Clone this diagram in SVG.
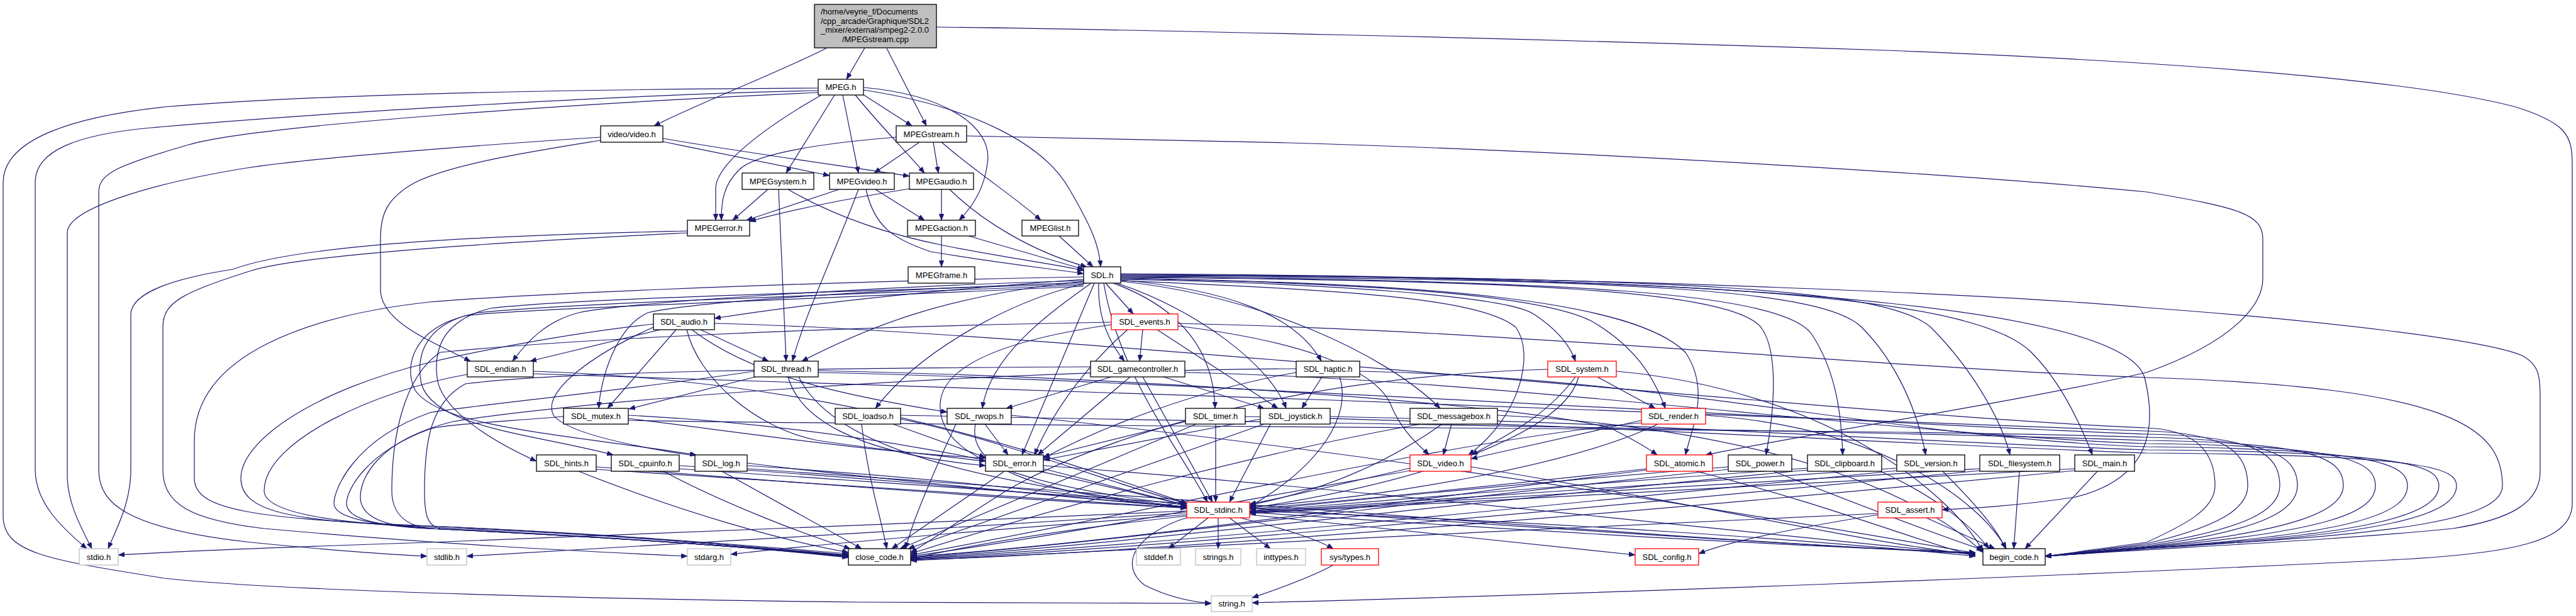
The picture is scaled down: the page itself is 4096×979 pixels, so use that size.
<svg xmlns="http://www.w3.org/2000/svg" width="4096" height="979" viewBox="0 0 4096 979">
<style>
.n rect{fill:#fff;stroke:#000;stroke-width:1.3}
.n.r rect{stroke:#ff0000}
.n.g rect{stroke:#bfbfbf}
.n.root rect{fill:#bfbfbf}
text{font-family:"Liberation Sans",Arial,Helvetica,sans-serif;font-size:13px;fill:#000}
.c{text-anchor:middle}
#edges path{fill:none;stroke:#191970;stroke-width:1.2;marker-end:url(#a)}
</style>
<defs>
<marker id="a" viewBox="0 0 10 8" refX="10" refY="4" markerWidth="10" markerHeight="8" markerUnits="userSpaceOnUse" orient="auto"><path d="M0,0L10,4L0,8z" fill="#191970" stroke="#191970" stroke-width="0.5"/></marker>
</defs>
<rect width="4096" height="979" fill="#fff"/>
<g id="edges">
<path d="M1375,76 L1346,126"/>
<path d="M1315,76 C1250,110 1120,160 1040,200"/>
<path d="M1410,77 L1473,200"/>
<path d="M1489,43 C1800,47 2400,60 3000,80 C3500,100 3850,130 4000,170 C4080,195 4090,215 4090,260 L4090,800 C4090,860 4000,880 3800,890 C3300,915 2500,945 1991,958"/>
<path d="M1301,140 C900,142 500,150 261,170 C120,185 5,220 5,290 L5,820 C5,880 80,890 261,919 C450,940 1000,953 1366,957 L1926,959"/>
<path d="M1301,144 C1000,150 500,180 240,203 C120,214 56,240 56,290 L56,746 C56,800 100,840 138,872"/>
<path d="M1301,147 C900,165 400,200 300,230 C190,262 157,275 157,305 L157,746 C157,800 200,840 400,862 C500,872 600,880 679,884"/>
<path d="M955,218 C800,228 500,250 392,267 C250,290 107,330 107,370 L107,756 C107,800 130,840 146,872"/>
<path d="M955,223 C850,240 720,260 660,290 C615,315 605,340 605,380 L605,460 C605,510 680,540 748,574"/>
<path d="M1093,367 C900,372 500,380 370,428 C260,445 208,470 208,500 L208,746 C208,800 185,840 172,872"/>
<path d="M1093,370 C900,380 500,400 400,430 C290,465 259,480 259,520 L259,746 C259,800 300,826 420,840 C700,865 900,875 1093,884"/>
<path d="M1306,151 C1220,200 1138,260 1138,300 L1138,350"/>
<path d="M1327,151 L1250,275"/>
<path d="M1340,151 L1365,275"/>
<path d="M1360,151 C1400,200 1440,240 1470,275"/>
<path d="M1372,150 L1450,200"/>
<path d="M1373,139 C1500,150 1580,200 1570,260 C1565,300 1545,330 1525,350"/>
<path d="M1373,143 C1550,170 1660,230 1700,300 C1735,360 1748,390 1750,424"/>
<path d="M1054,225 C1150,245 1250,265 1319,279"/>
<path d="M1054,220 C1200,245 1350,265 1446,280"/>
<path d="M1462,226 L1390,275"/>
<path d="M1484,226 L1492,275"/>
<path d="M1497,226 C1560,280 1610,310 1655,350"/>
<path d="M1425,218 C1300,228 1200,245 1175,270 C1150,295 1147,320 1147,350"/>
<path d="M1537,216 L2049,227 C2500,240 3100,275 3413,305 C3560,330 3598,340 3598,380 L3598,443 C3598,480 3560,540 3413,592 C3200,640 2900,685 2712,723"/>
<path d="M1221,301 L1165,350"/>
<path d="M1238,301 L1250,574"/>
<path d="M1253,301 C1320,340 1400,370 1500,390 C1600,410 1680,420 1723,430"/>
<path d="M1334,301 L1187,350"/>
<path d="M1365,301 C1320,420 1280,500 1260,574"/>
<path d="M1392,301 L1470,350"/>
<path d="M1377,301 C1390,360 1420,380 1480,400 C1600,420 1680,428 1723,435"/>
<path d="M1446,300 C1350,315 1250,335 1192,352"/>
<path d="M1497,301 L1497,350"/>
<path d="M1510,301 C1560,350 1640,400 1728,424"/>
<path d="M1497,375 L1497,424"/>
<path d="M1540,375 L1723,428"/>
<path d="M1684,375 L1738,424"/>
<path d="M1723,444 C1500,460 1300,480 1136,506"/>
<path d="M1723,446 C1400,455 1000,480 920,497 C870,510 840,540 815,574"/>
<path d="M1723,449 C1400,460 1100,480 1030,497 C980,520 955,600 952,649"/>
<path d="M1723,451 C1300,465 900,475 780,490 C700,510 690,560 695,600 C700,650 780,700 853,733"/>
<path d="M1723,453 C1300,470 900,482 760,497 C680,512 660,560 670,610 C690,680 850,690 975,723"/>
<path d="M1723,455 C1300,475 800,492 740,502 C660,522 640,580 660,620 C700,680 900,690 1107,723"/>
<path d="M1723,447 C1500,470 1380,520 1275,574"/>
<path d="M1727,450 C1600,480 1460,560 1392,649"/>
<path d="M1735,450 C1680,490 1575,560 1562,649"/>
<path d="M1740,450 L1625,723"/>
<path d="M1758,450 L1802,499"/>
<path d="M1747,450 C1745,500 1760,540 1788,574"/>
<path d="M1770,450 C1880,490 1930,560 1932,649"/>
<path d="M1775,450 C1900,490 2020,580 2045,649"/>
<path d="M1782,445 C1950,460 2060,500 2101,574"/>
<path d="M1782,447 C2000,470 2200,560 2290,649"/>
<path d="M1782,446 C2100,460 2350,470 2410,520 C2440,560 2420,660 2335,723"/>
<path d="M1782,444 C2100,450 2400,470 2440,500 C2470,520 2495,545 2505,574"/>
<path d="M1782,443 C2200,450 2450,470 2530,510 C2600,550 2630,600 2648,649"/>
<path d="M1782,442 C2300,450 2600,480 2680,560 C2720,620 2690,680 2680,723"/>
<path d="M1782,441 C2400,445 2750,460 2800,520 C2830,560 2820,660 2808,723"/>
<path d="M1782,440 C2500,445 2830,465 2880,530 C2920,590 2928,660 2930,723"/>
<path d="M1782,439 C2600,443 2900,460 2960,520 C3020,580 3050,660 3062,723"/>
<path d="M1782,438 C2700,440 3000,460 3070,520 C3130,580 3180,660 3196,723"/>
<path d="M1782,437 C2800,440 3150,480 3230,560 C3280,610 3310,680 3327,723"/>
<path d="M1782,436 C2900,440 3380,500 3410,600 C3430,680 3420,760 3300,790 C3200,805 3130,808 3088,810"/>
<path d="M1755,450 C1780,600 1880,720 1920,798"/>
<path d="M1782,435 C2600,440 3200,470 3413,489 C3700,510 3950,540 4010,565 C4039,580 4039,600 4039,640 L4039,749 C4039,800 3990,826 3900,840 C3700,860 3450,870 3252,884"/>
<path d="M1723,440 C1200,450 800,470 683,480 C500,500 309,560 309,700 L309,760 C309,810 396,824 683,836 C1000,850 1200,868 1349,880"/>
<path d="M1050,524 L843,574"/>
<path d="M1075,524 L966,649"/>
<path d="M1114,524 L1222,574"/>
<path d="M1092,524 C1110,600 1200,680 1300,700 C1400,715 1500,725 1567,733"/>
<path d="M1100,524 C1200,600 1350,630 1506,655"/>
<path d="M1039,520 C950,560 860,620 880,660 C920,710 1200,740 1500,770 C1700,790 1800,800 1887,805"/>
<path d="M1136,514 C1636,524 3000,665 3413,680 C3482,683 3522,710 3522,772 C3522,810 3472,835 3413,862 C3350,870 3300,878 3252,884"/>
<path d="M1039,515 C900,530 750,560 683,576 C500,620 383,700 383,760 C383,810 450,830 683,836 C1000,850 1200,870 1349,882"/>
<path d="M848,590 C1300,605 1600,700 1887,800"/>
<path d="M848,594 C1348,604 3000,670 3413,685 C3534,688 3574,715 3574,772 C3574,810 3524,838 3413,864 C3350,872 3300,879 3252,884"/>
<path d="M743,595 C600,620 420,700 420,780 C420,810 500,830 683,838 C1000,850 1200,870 1349,883"/>
<path d="M1201,599 L1000,650"/>
<path d="M1253,599 C1270,660 1350,720 1567,740"/>
<path d="M1270,599 C1320,700 1500,760 1887,806"/>
<path d="M1301,589 C1800,600 2400,640 2560,680 C2600,700 2620,712 2635,723"/>
<path d="M1301,592 C1801,602 3000,675 3413,690 C3585,693 3625,720 3625,772 C3625,810 3575,840 3413,866 C3350,873 3300,879 3252,884"/>
<path d="M1199,590 C1000,620 700,650 683,656 C560,700 531,780 531,800 C531,825 600,834 683,840 C1000,855 1200,870 1349,884"/>
<path d="M999,660 C1400,680 1700,760 1887,803"/>
<path d="M999,665 C1200,690 1400,720 1567,728"/>
<path d="M999,668 C1499,678 3000,680 3413,695 C3613,698 3653,725 3653,772 C3653,810 3603,842 3413,868 C3350,874 3300,880 3252,884"/>
<path d="M896,662 C800,670 700,675 683,682 C580,720 551,780 551,800 C551,825 600,836 683,840 C1000,855 1200,870 1349,884"/>
<path d="M1817,524 L1812,574"/>
<path d="M1840,524 L2032,649"/>
<path d="M1793,524 C1740,570 1680,640 1645,723"/>
<path d="M1873,518 C2050,540 2180,580 2210,640 C2230,690 2260,710 2272,723"/>
<path d="M1767,516 C1600,540 1500,580 1495,640 C1490,720 1600,770 1887,803"/>
<path d="M1873,514 C2400,525 3000,585 3413,600 C3900,615 3979,680 3979,772 C3979,820 3850,850 3413,870 C3350,876 3300,880 3252,884"/>
<path d="M1767,512 C1300,520 900,540 700,560 C640,600 623,700 623,780 C623,820 650,836 683,840 C1000,855 1200,870 1349,885"/>
<path d="M1767,599 L1600,649"/>
<path d="M1797,599 L1650,723"/>
<path d="M1850,599 L2010,649"/>
<path d="M1817,599 L1928,798"/>
<path d="M1884,592 C2384,602 3000,690 3413,705 C3737,708 3777,735 3777,772 C3777,815 3700,845 3413,870 C3350,876 3300,880 3252,884"/>
<path d="M1734,583 C1300,585 900,590 740,610 C685,640 675,700 675,780 C675,820 680,836 700,840 C1000,855 1200,870 1349,886"/>
<path d="M2102,599 L2070,649"/>
<path d="M2061,592 C1900,620 1750,680 1659,728"/>
<path d="M2130,599 C2150,660 2100,740 1987,805"/>
<path d="M2162,590 C2662,600 3000,695 3413,710 C3788,713 3828,740 3828,772 C3828,815 3750,848 3413,871 C3350,877 3300,881 3252,884"/>
<path d="M2061,586 C1500,590 900,640 720,670 C600,700 573,760 573,790 C573,825 620,838 683,840 C1000,855 1200,870 1349,885"/>
<path d="M2540,599 L2632,649"/>
<path d="M2505,599 C2460,660 2400,690 2340,723"/>
<path d="M2510,599 C2490,680 2300,760 1987,808"/>
<path d="M2570,590 C2900,620 3100,780 3153,876"/>
<path d="M2461,587 C2000,600 1700,720 1600,780 C1520,830 1480,860 1448,878"/>
<path d="M1420,674 L1567,727"/>
<path d="M1432,666 C1600,700 1800,780 1887,800"/>
<path d="M1370,674 C1380,760 1400,820 1410,872"/>
<path d="M1432,660 C1932,670 3000,685 3413,700 C3686,703 3726,730 3726,772 C3726,812 3650,844 3413,869 C3350,875 3300,880 3252,884"/>
<path d="M1566,674 L1603,723"/>
<path d="M1551,674 C1540,730 1600,780 1887,807"/>
<path d="M1608,660 C2200,720 2800,820 3141,879"/>
<path d="M1520,674 C1480,760 1450,830 1440,872"/>
<path d="M1885,670 L1659,726"/>
<path d="M1933,674 L1933,798"/>
<path d="M1902,674 L1431,872"/>
<path d="M1980,662 C2480,672 3000,705 3413,720 C3866,723 3906,745 3906,772 C3906,818 3800,850 3413,872 C3350,877 3300,881 3252,884"/>
<path d="M2004,666 L1659,731"/>
<path d="M2020,674 L1955,798"/>
<path d="M2010,674 L1444,872"/>
<path d="M2115,662 C2615,672 3000,700 3413,715 C3838,718 3878,742 3878,772 C3878,816 3780,849 3413,871 C3350,877 3300,881 3252,884"/>
<path d="M2308,674 L2295,723"/>
<path d="M2293,674 C2200,740 2100,780 1987,803"/>
<path d="M2259,674 C2000,720 1700,800 1448,880"/>
<path d="M2381,660 C2800,680 3050,780 3153,878"/>
<path d="M2610,668 L2339,729"/>
<path d="M2636,674 C2500,740 2200,790 1987,806"/>
<path d="M2610,672 C2300,700 1800,820 1448,882"/>
<path d="M2712,660 C3000,680 3150,800 3190,872"/>
<path d="M2242,744 C2150,765 2050,790 1987,801"/>
<path d="M2242,748 C2000,790 1700,850 1448,884"/>
<path d="M2339,742 C2700,800 2950,860 3141,882"/>
<path d="M2618,745 C2400,770 2100,800 1987,809"/>
<path d="M2618,747 C2200,800 1800,860 1448,885"/>
<path d="M2697,749 C2900,800 3050,860 3141,884"/>
<path d="M2748,742 C2400,770 2100,800 1987,812"/>
<path d="M2748,746 C2300,790 1800,860 1448,886"/>
<path d="M2820,749 C2950,800 3080,850 3153,874"/>
<path d="M2874,744 C2500,770 2150,800 1987,813"/>
<path d="M2874,747 C2300,800 1800,865 1448,887"/>
<path d="M2990,749 C3080,790 3140,840 3162,872"/>
<path d="M3016,744 C2600,770 2200,800 1987,814"/>
<path d="M3016,748 C2400,810 1800,870 1448,888"/>
<path d="M3089,749 C3140,800 3175,840 3189,872"/>
<path d="M3148,745 C2700,770 2250,800 1987,815"/>
<path d="M3148,748 C2500,810 1800,875 1448,889"/>
<path d="M3211,749 L3202,872"/>
<path d="M3299,745 C2800,770 2300,800 1987,816"/>
<path d="M3299,748 C2600,815 1800,880 1448,890"/>
<path d="M3335,749 L3220,872"/>
<path d="M2986,818 C2850,840 2750,860 2701,880"/>
<path d="M3063,823 L3172,872"/>
<path d="M2986,816 C2500,840 1800,870 1448,891"/>
<path d="M1887,812 C1500,830 1000,850 683,862 C500,868 300,875 188,882"/>
<path d="M1887,815 C1500,840 1000,870 742,884"/>
<path d="M1887,818 C1600,840 1300,865 1162,881"/>
<path d="M1921,823 L1858,872"/>
<path d="M1937,823 L1937,872"/>
<path d="M1955,823 L2020,872"/>
<path d="M1972,823 C2040,840 2090,855 2120,872"/>
<path d="M1889,822 C1800,850 1780,900 1820,930 C1860,950 1900,957 1926,959"/>
<path d="M1987,818 C2200,840 2450,865 2600,882"/>
<path d="M1987,812 C2500,830 2900,860 3141,884"/>
<path d="M1887,820 C1700,840 1550,865 1448,888"/>
<path d="M2120,898 C2080,920 2020,940 1991,950"/>
<path d="M1659,745 L1887,803"/>
<path d="M1597,749 L1418,872"/>
<path d="M1659,740 C2200,780 2800,850 3141,881"/>
<path d="M948,742 C1300,770 1700,800 1887,807"/>
<path d="M920,749 C1100,820 1250,860 1349,878"/>
<path d="M948,746 C1800,800 2600,860 3141,878"/>
<path d="M1080,740 C1400,760 1700,790 1887,806"/>
<path d="M1055,749 C1150,800 1280,850 1352,872"/>
<path d="M1080,745 C1900,800 2700,860 3141,879"/>
<path d="M1188,740 C1500,760 1750,790 1887,808"/>
<path d="M1148,749 L1370,872"/>
<path d="M1188,745 C2000,800 2700,860 3141,880"/>
</g>
<g id="n_root" class="n root"><rect x="1295" y="7" width="194" height="69"/><text x="1305" y="23">/home/veyrie_f/Documents</text><text x="1305" y="37.7">/cpp_arcade/Graphique/SDL2</text><text x="1305" y="52.3">_mixer/external/smpeg2-2.0.0</text><text class="c" x="1392" y="67">/MPEGstream.cpp</text></g>
<g id="n_MPEG" class="n"><rect x="1301" y="126" width="72" height="25"/><text class="c" x="1337" y="143">MPEG.h</text></g>
<g id="n_video" class="n"><rect x="955" y="200" width="99" height="26"/><text class="c" x="1004.5" y="217.5">video/video.h</text></g>
<g id="n_MPEGstream" class="n"><rect x="1425" y="200" width="112" height="26"/><text class="c" x="1481" y="217.5">MPEGstream.h</text></g>
<g id="n_MPEGsystem" class="n"><rect x="1180" y="275" width="114" height="26"/><text class="c" x="1237" y="292.5">MPEGsystem.h</text></g>
<g id="n_MPEGvideo" class="n"><rect x="1319" y="275" width="103" height="26"/><text class="c" x="1370.5" y="292.5">MPEGvideo.h</text></g>
<g id="n_MPEGaudio" class="n"><rect x="1446" y="275" width="102" height="26"/><text class="c" x="1497" y="292.5">MPEGaudio.h</text></g>
<g id="n_MPEGerror" class="n"><rect x="1093" y="350" width="99" height="25"/><text class="c" x="1142.5" y="367">MPEGerror.h</text></g>
<g id="n_MPEGaction" class="n"><rect x="1443" y="350" width="108" height="25"/><text class="c" x="1497" y="367">MPEGaction.h</text></g>
<g id="n_MPEGlist" class="n"><rect x="1625" y="350" width="90" height="25"/><text class="c" x="1670" y="367">MPEGlist.h</text></g>
<g id="n_MPEGframe" class="n"><rect x="1444" y="424" width="106" height="26"/><text class="c" x="1497" y="441.5">MPEGframe.h</text></g>
<g id="n_SDL" class="n"><rect x="1723" y="424" width="59" height="26"/><text class="c" x="1752.5" y="441.5">SDL.h</text></g>
<g id="n_SDL_audio" class="n"><rect x="1039" y="499" width="97" height="25"/><text class="c" x="1087.5" y="516">SDL_audio.h</text></g>
<g id="n_SDL_events" class="n r"><rect x="1767" y="499" width="106" height="25"/><text class="c" x="1820" y="516">SDL_events.h</text></g>
<g id="n_SDL_endian" class="n"><rect x="743" y="574" width="105" height="25"/><text class="c" x="795.5" y="591">SDL_endian.h</text></g>
<g id="n_SDL_thread" class="n"><rect x="1199" y="574" width="102" height="25"/><text class="c" x="1250" y="591">SDL_thread.h</text></g>
<g id="n_SDL_gamecontroller" class="n"><rect x="1734" y="574" width="150" height="25"/><text class="c" x="1809" y="591">SDL_gamecontroller.h</text></g>
<g id="n_SDL_haptic" class="n"><rect x="2061" y="574" width="101" height="25"/><text class="c" x="2111.5" y="591">SDL_haptic.h</text></g>
<g id="n_SDL_system" class="n r"><rect x="2461" y="574" width="109" height="25"/><text class="c" x="2515.5" y="591">SDL_system.h</text></g>
<g id="n_SDL_mutex" class="n"><rect x="896" y="649" width="103" height="25"/><text class="c" x="947.5" y="666">SDL_mutex.h</text></g>
<g id="n_SDL_loadso" class="n"><rect x="1328" y="649" width="104" height="25"/><text class="c" x="1380" y="666">SDL_loadso.h</text></g>
<g id="n_SDL_rwops" class="n"><rect x="1506" y="649" width="102" height="25"/><text class="c" x="1557" y="666">SDL_rwops.h</text></g>
<g id="n_SDL_timer" class="n"><rect x="1885" y="649" width="95" height="25"/><text class="c" x="1932.5" y="666">SDL_timer.h</text></g>
<g id="n_SDL_joystick" class="n"><rect x="2004" y="649" width="111" height="25"/><text class="c" x="2059.5" y="666">SDL_joystick.h</text></g>
<g id="n_SDL_messagebox" class="n"><rect x="2242" y="649" width="139" height="25"/><text class="c" x="2311.5" y="666">SDL_messagebox.h</text></g>
<g id="n_SDL_render" class="n r"><rect x="2610" y="649" width="102" height="25"/><text class="c" x="2661" y="666">SDL_render.h</text></g>
<g id="n_SDL_hints" class="n"><rect x="853" y="723" width="95" height="26"/><text class="c" x="900.5" y="740.5">SDL_hints.h</text></g>
<g id="n_SDL_cpuinfo" class="n"><rect x="972" y="723" width="108" height="26"/><text class="c" x="1026" y="740.5">SDL_cpuinfo.h</text></g>
<g id="n_SDL_log" class="n"><rect x="1105" y="723" width="83" height="26"/><text class="c" x="1146.5" y="740.5">SDL_log.h</text></g>
<g id="n_SDL_error" class="n"><rect x="1567" y="723" width="92" height="26"/><text class="c" x="1613" y="740.5">SDL_error.h</text></g>
<g id="n_SDL_video" class="n r"><rect x="2242" y="723" width="97" height="26"/><text class="c" x="2290.5" y="740.5">SDL_video.h</text></g>
<g id="n_SDL_atomic" class="n r"><rect x="2618" y="723" width="105" height="26"/><text class="c" x="2670.5" y="740.5">SDL_atomic.h</text></g>
<g id="n_SDL_power" class="n"><rect x="2748" y="723" width="101" height="26"/><text class="c" x="2798.5" y="740.5">SDL_power.h</text></g>
<g id="n_SDL_clipboard" class="n"><rect x="2874" y="723" width="118" height="26"/><text class="c" x="2933" y="740.5">SDL_clipboard.h</text></g>
<g id="n_SDL_version" class="n"><rect x="3016" y="723" width="108" height="26"/><text class="c" x="3070" y="740.5">SDL_version.h</text></g>
<g id="n_SDL_filesystem" class="n"><rect x="3148" y="723" width="127" height="26"/><text class="c" x="3211.5" y="740.5">SDL_filesystem.h</text></g>
<g id="n_SDL_main" class="n"><rect x="3299" y="723" width="95" height="26"/><text class="c" x="3346.5" y="740.5">SDL_main.h</text></g>
<g id="n_SDL_stdinc" class="n r"><rect x="1887" y="798" width="100" height="25"/><text class="c" x="1937" y="815">SDL_stdinc.h</text></g>
<g id="n_SDL_assert" class="n r"><rect x="2986" y="798" width="102" height="25"/><text class="c" x="3037" y="815">SDL_assert.h</text></g>
<g id="n_stdio" class="n g"><rect x="126" y="872" width="62" height="26"/><text class="c" x="157" y="889.5">stdio.h</text></g>
<g id="n_stdlib" class="n g"><rect x="679" y="872" width="63" height="26"/><text class="c" x="710.5" y="889.5">stdlib.h</text></g>
<g id="n_stdarg" class="n g"><rect x="1093" y="872" width="69" height="26"/><text class="c" x="1127.5" y="889.5">stdarg.h</text></g>
<g id="n_close_code" class="n"><rect x="1349" y="872" width="99" height="26"/><text class="c" x="1398.5" y="889.5">close_code.h</text></g>
<g id="n_stddef" class="n g"><rect x="1807" y="872" width="70" height="26"/><text class="c" x="1842" y="889.5">stddef.h</text></g>
<g id="n_strings" class="n g"><rect x="1901" y="872" width="72" height="26"/><text class="c" x="1937" y="889.5">strings.h</text></g>
<g id="n_inttypes" class="n g"><rect x="1998" y="872" width="78" height="26"/><text class="c" x="2037" y="889.5">inttypes.h</text></g>
<g id="n_systypes" class="n r"><rect x="2101" y="872" width="91" height="26"/><text class="c" x="2146.5" y="889.5">sys/types.h</text></g>
<g id="n_SDL_config" class="n r"><rect x="2600" y="872" width="101" height="26"/><text class="c" x="2650.5" y="889.5">SDL_config.h</text></g>
<g id="n_begin_code" class="n"><rect x="3153" y="872" width="99" height="26"/><text class="c" x="3202.5" y="889.5">begin_code.h</text></g>
<g id="n_string" class="n g"><rect x="1926" y="947" width="65" height="25"/><text class="c" x="1958.5" y="964">string.h</text></g>
</svg>
